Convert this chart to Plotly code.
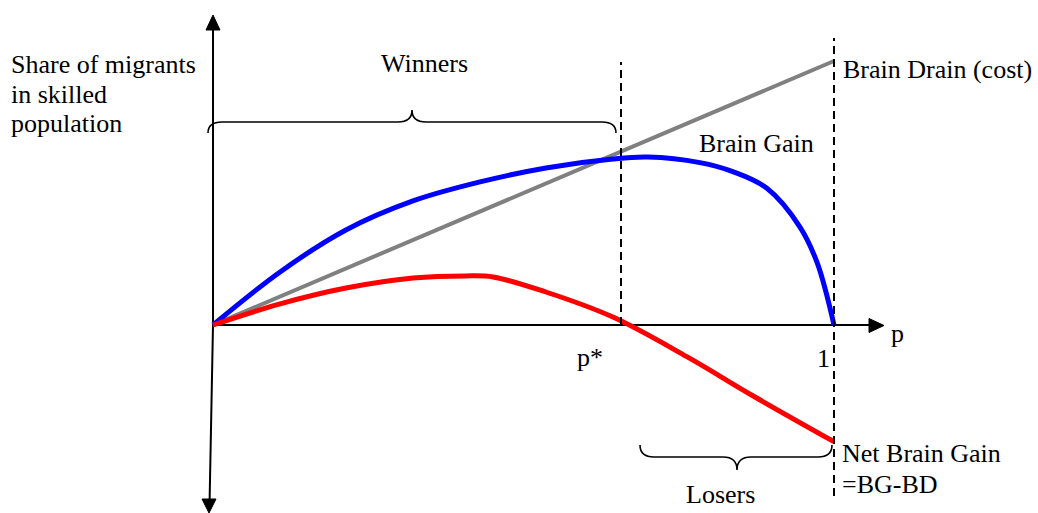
import plotly.graph_objects as go

# ---------------- data ----------------
# p : emigration probability (0 .. 1)
BG_P = [0.0, 0.108, 0.214, 0.322, 0.430, 0.536, 0.644, 0.700, 0.784, 0.837, 0.892, 0.945, 0.973, 1.0]
BG_V = [0.0, 0.201, 0.360, 0.470, 0.542, 0.595, 0.629, 0.636, 0.615, 0.581, 0.518, 0.372, 0.235, 0.0]

BD_P = [0.0, 1.0]
BD_V = [0.0, 1.0]

NBG_P = [0.0, 0.108, 0.214, 0.322, 0.407, 0.451, 0.536, 0.644, 0.763, 0.870, 1.0]
NBG_V = [0.0, 0.080, 0.140, 0.178, 0.186, 0.182, 0.125, 0.030, -0.120, -0.269, -0.442]

P_STAR = 0.657
P_ONE = 1.0

TICK_LABELS = ["p*", "1"]
SERIES_NAMES = ["Brain Drain (cost)", "Brain Gain", "Net Brain Gain", "=BG-BD"]

# ---------------- geometry helpers (pixel -> data) ----------------
W, H = 1038, 513
OX, OY = 213.0, 325.0      # origin in pixels
SX, SY = 621.0, 264.0      # pixels per data unit


def X(px):
    return (px - OX) / SX


def Y(py):
    return (OY - py) / SY


def path(points_px):
    out = []
    for cmd, pts in points_px:
        s = cmd
        if pts:
            s += " " + " ".join(f"{X(a):.5f},{Y(b):.5f}" for a, b in pts)
        out.append(s)
    return " ".join(out)


FONT = dict(family="Liberation Serif, Times New Roman, serif", size=26, color="black")

fig = go.Figure()

fig.add_trace(go.Scatter(x=BD_P, y=BD_V, mode="lines",
                         line=dict(color="#808080", width=4), hoverinfo="skip"))
fig.add_trace(go.Scatter(x=BG_P, y=BG_V, mode="lines", line_shape="spline",
                         line=dict(color="#0000FF", width=5, smoothing=1.0), hoverinfo="skip"))
fig.add_trace(go.Scatter(x=NBG_P, y=NBG_V, mode="lines", line_shape="spline",
                         line=dict(color="#FF0000", width=5, smoothing=1.0), hoverinfo="skip"))

shapes = []
axis_line = dict(color="black", width=2)
# x axis
shapes.append(dict(type="line", x0=0, y0=0, x1=X(872), y1=0, line=axis_line, layer="below"))
# y axis up
shapes.append(dict(type="line", x0=0, y0=0, x1=0, y1=Y(29), line=axis_line, layer="below"))
# y axis down (slightly slanted as in reference)
shapes.append(dict(type="line", x0=0, y0=0, x1=X(209.6), y1=Y(501), line=axis_line, layer="below"))

# arrowheads
for tri in (
    [(884, 325.5), (869, 318.5), (869, 332.5)],
    [(213, 15), (206, 30), (220, 30)],
    [(209, 513), (202, 499), (216, 499)],
):
    shapes.append(dict(type="path",
                       path=path([("M", [tri[0]]), ("L", [tri[1]]), ("L", [tri[2]]), ("Z", [])]),
                       fillcolor="black", line=dict(color="black", width=1)))

# dashed vertical lines
dash = dict(color="black", width=2, dash="8px,5px")
shapes.append(dict(type="line", x0=P_STAR, x1=P_STAR, y0=0, y1=Y(62), line=dash))
shapes.append(dict(type="line", x0=P_ONE, x1=P_ONE, y0=Y(496), y1=Y(38), line=dash))

# braces
brace_line = dict(color="black", width=1.6)
winners = path([
    ("M", [(208, 133)]), ("Q", [(208, 122), (222, 122)]), ("L", [(398, 122)]),
    ("Q", [(412, 122), (412, 110)]), ("Q", [(412, 122), (426, 122)]), ("L", [(602, 122)]),
    ("Q", [(616, 122), (616, 133)]),
])
losers = path([
    ("M", [(640, 445)]), ("Q", [(640, 457), (654, 457)]), ("L", [(723, 457)]),
    ("Q", [(737, 457), (737, 470)]), ("Q", [(737, 457), (751, 457)]), ("L", [(818, 457)]),
    ("Q", [(832, 457), (832, 445)]),
])
shapes.append(dict(type="path", path=winners, line=brace_line))
shapes.append(dict(type="path", path=losers, line=brace_line))

annotations = []


def label(text, px, py, anchor="left"):
    annotations.append(dict(text=text, x=X(px), y=Y(py), xref="x", yref="y",
                            showarrow=False, xanchor=anchor, yanchor="middle",
                            font=FONT, borderpad=0))


label("Share of migrants", 10, 64)
label("in skilled", 10, 94)
label("population", 10, 123)
label("Winners", 424, 63, "center")
label(SERIES_NAMES[0], 842, 69)
label(SERIES_NAMES[1], 815, 143, "right")
label(SERIES_NAMES[2], 841, 453)
label(SERIES_NAMES[3], 841, 484)
label("Losers", 720, 494, "center")
label(TICK_LABELS[0], 590, 357, "center")
label(TICK_LABELS[1], 823, 358, "center")
label("p", 897, 333, "center")

fig.update_layout(
    width=W, height=H,
    margin=dict(l=0, r=0, t=0, b=0),
    paper_bgcolor="white", plot_bgcolor="white",
    showlegend=False,
    xaxis=dict(visible=False, range=[X(0), X(W)], fixedrange=True),
    yaxis=dict(visible=False, range=[Y(H), Y(0)], fixedrange=True),
    shapes=shapes,
    annotations=annotations,
)

fig.write_html(
    "out.html",
    config={"displayModeBar": False},
    post_script="document.body.style.margin='0';document.body.style.overflow='hidden';",
)
